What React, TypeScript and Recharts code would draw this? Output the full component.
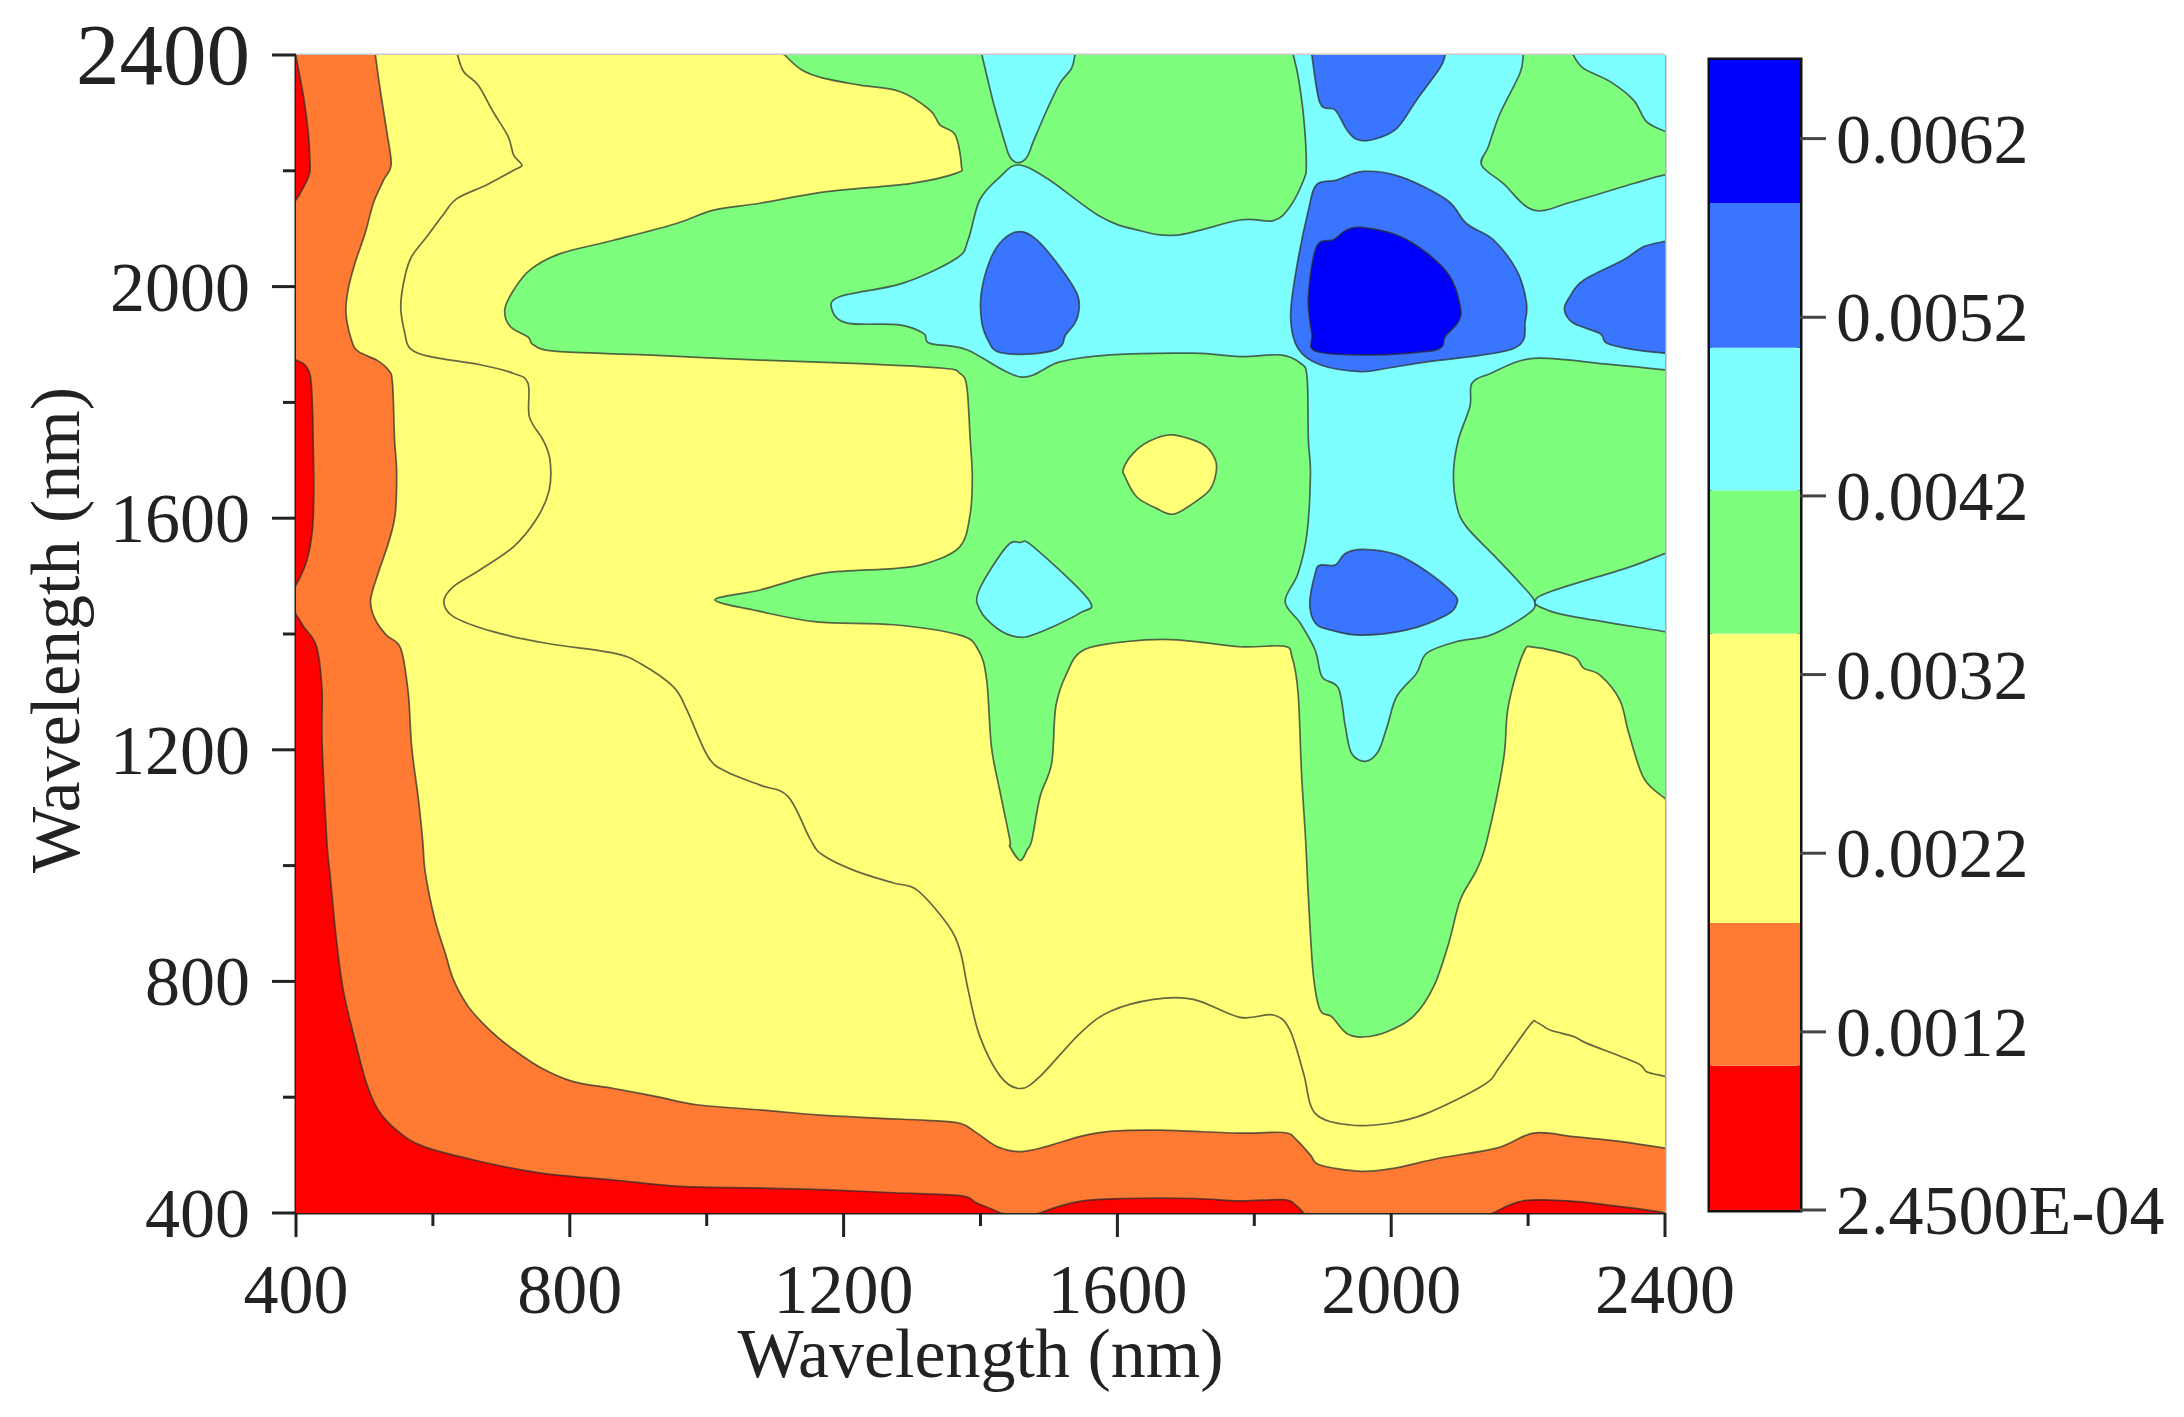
import { ScatterChart, Scatter, XAxis, YAxis, ReferenceLine, ReferenceArea, BarChart, Bar } from "recharts"

type Pt = [number, number]

const SERIF = '"Liberation Serif", "Times New Roman", serif'
const INK = "#222"

const RED = "#ff0000"
const ORANGE = "#ff7a33"
const YELLOW = "#ffff78"
const GREEN = "#7dff7d"
const CYAN = "#7dffff"
const BLUE = "#3a75ff"
const DEEP = "#0000ff"

const axisTicks = [400, 600, 800, 1000, 1200, 1400, 1600, 1800, 2000, 2200, 2400]
const axisMajor = [400, 800, 1200, 1600, 2000, 2400]

// contour outlines in nm; points just past 400/2400 hide the outline behind the plot clip
const orangeBase: Pt[] = [[388, 388], [2412, 388], [2412, 2412], [388, 2412]]

const redTopLeft: Pt[] = [[398, 2412], [401, 2391], [411, 2328], [418, 2265], [420, 2224], [420, 2196], [411, 2172], [400, 2150], [388, 2140], [388, 2412]]
const redMidLeft: Pt[] = [[388, 1878], [400, 1873], [413, 1865], [421, 1845], [424, 1793], [425, 1735], [426, 1649], [424, 1580], [416, 1528], [400, 1485], [388, 1470]]
const redBottomLeft: Pt[] = [[388, 1445], [400, 1433], [411, 1413], [430, 1378], [438, 1303], [438, 1217], [445, 1044], [450, 981], [459, 872], [469, 785], [486, 699], [503, 624], [520, 578], [547, 543], [586, 515], [669, 489], [757, 469], [864, 457], [961, 446], [1078, 443], [1175, 440], [1273, 435], [1370, 430], [1395, 417], [1429, 400], [1440, 388], [388, 388]]
const redBottomMid: Pt[] = [[1475, 388], [1487, 400], [1545, 420], [1614, 425], [1711, 425], [1779, 421], [1843, 423], [1860, 414], [1872, 400], [1880, 388]]
const redBottomRight: Pt[] = [[2135, 388], [2149, 400], [2193, 421], [2257, 421], [2315, 414], [2400, 400], [2412, 388]]

const yellowOuter: Pt[] = [[515, 2412], [516, 2400], [523, 2340], [533, 2265], [539, 2210], [528, 2184], [513, 2144], [501, 2092], [486, 2040], [476, 1994], [473, 1954], [481, 1908], [491, 1888], [518, 1873], [535, 1856], [541, 1833], [544, 1735], [547, 1683], [545, 1608], [535, 1557], [520, 1505], [509, 1459], [515, 1427], [532, 1398], [553, 1375], [564, 1298], [569, 1205], [579, 1113], [585, 1044], [589, 987], [603, 906], [618, 849], [630, 803], [652, 756], [683, 716], [718, 682], [759, 650], [805, 627], [864, 615], [927, 601], [985, 587], [1078, 578], [1166, 569], [1248, 564], [1321, 560], [1370, 555], [1395, 538], [1424, 515], [1458, 506], [1497, 515], [1545, 532], [1589, 541], [1662, 543], [1779, 538], [1843, 539], [1862, 526], [1882, 500], [1896, 483], [1955, 472], [2003, 477], [2071, 495], [2154, 512], [2208, 538], [2266, 532], [2339, 523], [2400, 512], [2412, 510], [2412, 2412]]
const yellowInner: Pt[] = [[634, 2412], [636, 2400], [645, 2371], [666, 2348], [688, 2302], [710, 2259], [718, 2227], [730, 2210], [718, 2201], [679, 2176], [635, 2152], [615, 2124], [591, 2086], [569, 2052], [559, 2017], [553, 1965], [559, 1919], [567, 1893], [596, 1879], [669, 1865], [718, 1850], [739, 1833], [741, 1775], [761, 1735], [771, 1701], [770, 1649], [752, 1600], [718, 1551], [669, 1511], [630, 1482], [616, 1456], [630, 1430], [688, 1404], [766, 1384], [864, 1367], [903, 1349], [951, 1309], [971, 1269], [1002, 1188], [1029, 1162], [1078, 1139], [1119, 1119], [1152, 1044], [1170, 1018], [1219, 990], [1273, 970], [1307, 958], [1351, 900], [1370, 854], [1382, 785], [1399, 705], [1429, 636], [1458, 615], [1487, 636], [1545, 710], [1589, 748], [1653, 769], [1711, 769], [1779, 738], [1828, 742], [1852, 716], [1872, 641], [1889, 572], [1940, 552], [1998, 555], [2052, 572], [2135, 621], [2159, 653], [2203, 725], [2213, 729], [2232, 716], [2266, 705], [2286, 693], [2359, 659], [2373, 644], [2400, 636], [2412, 632], [2412, 2412]]

const greenMain: Pt[] = [[1108, 2412], [1114, 2400], [1139, 2374], [1170, 2360], [1224, 2348], [1282, 2337], [1326, 2305], [1341, 2279], [1363, 2262], [1372, 2210], [1365, 2196], [1297, 2178], [1175, 2164], [1078, 2144], [1010, 2132], [956, 2109], [864, 2080], [786, 2057], [742, 2029], [718, 1994], [705, 1960], [713, 1931], [739, 1913], [747, 1899], [781, 1888], [912, 1882], [1078, 1873], [1224, 1867], [1346, 1859], [1370, 1850], [1380, 1827], [1385, 1735], [1388, 1672], [1385, 1608], [1370, 1551], [1321, 1522], [1273, 1513], [1170, 1505], [1078, 1476], [1012, 1459], [1078, 1439], [1161, 1421], [1273, 1416], [1370, 1398], [1397, 1372], [1409, 1321], [1416, 1205], [1429, 1125], [1443, 1044], [1443, 1033], [1458, 1009], [1468, 1027], [1475, 1044], [1487, 1119], [1504, 1177], [1510, 1275], [1526, 1332], [1550, 1372], [1614, 1387], [1687, 1390], [1779, 1378], [1843, 1379], [1855, 1361], [1864, 1298], [1869, 1159], [1875, 1044], [1879, 946], [1886, 814], [1896, 751], [1913, 739], [1935, 710], [1959, 704], [1994, 713], [2032, 739], [2062, 791], [2084, 866], [2101, 941], [2125, 993], [2140, 1044], [2164, 1182], [2171, 1275], [2193, 1367], [2210, 1377], [2266, 1361], [2281, 1341], [2305, 1329], [2334, 1286], [2347, 1229], [2369, 1151], [2400, 1116], [2412, 1105], [2412, 2412]]
const yellowSpot: Pt[] = [[1679, 1744], [1726, 1727], [1743, 1701], [1744, 1678], [1735, 1649], [1711, 1626], [1682, 1607], [1657, 1617], [1628, 1637], [1611, 1672], [1609, 1686], [1623, 1712], [1645, 1732]]

const cyanTop: Pt[] = [[1399, 2412], [1402, 2400], [1419, 2317], [1436, 2247], [1443, 2224], [1455, 2214], [1468, 2224], [1477, 2250], [1497, 2305], [1516, 2351], [1533, 2377], [1538, 2400], [1541, 2412]]
const cyanMain: Pt[] = [[1455, 2210], [1497, 2187], [1575, 2121], [1628, 2098], [1687, 2089], [1779, 2115], [1828, 2114], [1852, 2138], [1872, 2184], [1876, 2213], [1872, 2294], [1864, 2363], [1857, 2400], [1855, 2412], [2195, 2412], [2193, 2400], [2188, 2368], [2159, 2299], [2142, 2242], [2132, 2210], [2164, 2178], [2208, 2132], [2266, 2147], [2354, 2178], [2400, 2193], [2412, 2190], [2412, 1855], [2400, 1856], [2315, 1866], [2208, 1876], [2145, 1850], [2118, 1833], [2115, 1793], [2098, 1735], [2091, 1678], [2096, 1620], [2110, 1585], [2149, 1537], [2188, 1488], [2210, 1455], [2198, 1433], [2145, 1398], [2096, 1387], [2052, 1367], [2037, 1332], [2008, 1292], [1994, 1240], [1981, 1197], [1962, 1180], [1942, 1194], [1933, 1240], [1923, 1306], [1899, 1326], [1889, 1372], [1867, 1419], [1845, 1456], [1864, 1505], [1877, 1574], [1882, 1678], [1879, 1735], [1877, 1844], [1867, 1868], [1838, 1882], [1779, 1879], [1711, 1885], [1589, 1882], [1516, 1870], [1458, 1844], [1380, 1891], [1326, 1902], [1317, 1919], [1282, 1934], [1205, 1937], [1183, 1960], [1195, 1983], [1287, 2006], [1365, 2049], [1382, 2081], [1399, 2150], [1429, 2190]]
const cyanWedge: Pt[] = [[2210, 1455], [2232, 1473], [2349, 1516], [2400, 1539], [2412, 1542], [2412, 1401], [2400, 1404], [2266, 1430], [2227, 1442]]
const cyanCorner: Pt[] = [[2262, 2412], [2266, 2400], [2281, 2377], [2320, 2354], [2354, 2322], [2373, 2285], [2400, 2268], [2412, 2262], [2412, 2412]]
const cyanIsland: Pt[] = [[1458, 1558], [1477, 1551], [1558, 1459], [1545, 1436], [1482, 1401], [1453, 1395], [1424, 1410], [1399, 1442], [1398, 1476], [1438, 1551]]

const blueLeft: Pt[] = [[1458, 2095], [1482, 2081], [1516, 2034], [1541, 1988], [1544, 1960], [1538, 1937], [1524, 1916], [1519, 1899], [1502, 1888], [1458, 1883], [1424, 1888], [1412, 1905], [1402, 1937], [1401, 1988], [1414, 2046], [1433, 2081]]
const blueTop: Pt[] = [[1881, 2412], [1884, 2400], [1896, 2317], [1918, 2305], [1935, 2271], [1950, 2254], [1974, 2254], [2008, 2273], [2037, 2322], [2071, 2377], [2079, 2400], [2082, 2412]]
const blueCentre: Pt[] = [[1959, 2199], [2013, 2190], [2081, 2150], [2110, 2109], [2149, 2081], [2183, 2029], [2197, 1977], [2196, 1942], [2179, 1893], [2052, 1870], [1994, 1859], [1955, 1853], [1896, 1865], [1864, 1893], [1853, 1948], [1862, 2034], [1879, 2132], [1891, 2176], [1920, 2184]]
const blueRight: Pt[] = [[2412, 2080], [2400, 2078], [2369, 2069], [2339, 2046], [2281, 2011], [2261, 1983], [2253, 1960], [2266, 1937], [2305, 1919], [2315, 1902], [2354, 1891], [2400, 1885], [2412, 1883]]
const blueLower: Pt[] = [[1959, 1546], [2008, 1537], [2052, 1508], [2091, 1470], [2096, 1453], [2081, 1433], [2023, 1407], [1955, 1398], [1911, 1407], [1889, 1419], [1881, 1453], [1889, 1505], [1896, 1519], [1918, 1519], [1933, 1539]]
const deepCore: Pt[] = [[1959, 2102], [2008, 2089], [2052, 2058], [2086, 2017], [2101, 1965], [2098, 1939], [2079, 1914], [2074, 1896], [2052, 1888], [1974, 1882], [1891, 1888], [1884, 1919], [1879, 1983], [1891, 2069], [1916, 2081], [1935, 2098]]

const layers: [Pt[], string][] = [
  [orangeBase, ORANGE],
  [redTopLeft, RED],
  [redMidLeft, RED],
  [redBottomLeft, RED],
  [redBottomMid, RED],
  [redBottomRight, RED],
  [yellowOuter, YELLOW],
  [yellowInner, YELLOW],
  [greenMain, GREEN],
  [yellowSpot, YELLOW],
  [cyanTop, CYAN],
  [cyanMain, CYAN],
  [cyanWedge, CYAN],
  [cyanCorner, CYAN],
  [cyanIsland, CYAN],
  [blueLeft, BLUE],
  [blueTop, BLUE],
  [blueCentre, BLUE],
  [blueRight, BLUE],
  [blueLower, BLUE],
  [deepCore, DEEP],
]

// colour scale: band edges, bottom to top
const scaleEdges = [0.000203, 0.00101, 0.00181, 0.00343, 0.00423, 0.00503, 0.00584, 0.00664]
const scaleColors = [RED, ORANGE, YELLOW, GREEN, CYAN, BLUE, DEEP]
const scaleTicks = [0.000203, 0.0012, 0.0022, 0.0032, 0.0042, 0.0052, 0.0062]
const scaleLabels = ["2.4500E-04", "0.0012", "0.0022", "0.0032", "0.0042", "0.0052", "0.0062"]

const scaleRow: Record<string, number | string> = { name: "scale" }
scaleColors.forEach((_, i) => {
  scaleRow[`band${i}`] = i === 0 ? scaleEdges[1] : scaleEdges[i + 1] - scaleEdges[i]
})

// closed Catmull-Rom outline through the points the Scatter already scaled
function ContourOutline({ points, fill }: any) {
  const n = points.length
  const at = (i: number) => points[(i + n) % n]
  let d = `M${at(0).x},${at(0).y}`
  for (let i = 0; i < n; i++) {
    const [p0, p1, p2, p3] = [at(i - 1), at(i), at(i + 1), at(i + 2)]
    const c1x = p1.x + (p2.x - p0.x) / 6
    const c1y = p1.y + (p2.y - p0.y) / 6
    const c2x = p2.x - (p3.x - p1.x) / 6
    const c2y = p2.y - (p3.y - p1.y) / 6
    d += `C${c1x},${c1y} ${c2x},${c2y} ${p2.x},${p2.y}`
  }
  return <path d={d + "Z"} fill={fill} stroke="#2b2b2b" strokeOpacity={0.72} strokeWidth={1.7} />
}

function XTick({ x, y, payload }: any) {
  const major = axisMajor.includes(payload.value)
  return (
    <g>
      <line x1={x} y1={y} x2={x} y2={y + (major ? 24 : 13)} stroke={INK} strokeWidth={3} />
      {major && (
        <text x={x} y={y + 100} textAnchor="middle" fontFamily={SERIF} fontSize={70} fill={INK}>
          {payload.value}
        </text>
      )}
    </g>
  )
}

function YTick({ x, y, payload }: any) {
  const major = axisMajor.includes(payload.value)
  const top = payload.value === 2400
  return (
    <g>
      <line x1={x} y1={y} x2={x - (major ? 24 : 13)} y2={y} stroke={INK} strokeWidth={3} />
      {major && (
        <text x={x - 46} y={y + (top ? 29 : 24)} textAnchor="end" fontFamily={SERIF} fontSize={top ? 87 : 70} fill={INK}>
          {payload.value}
        </text>
      )}
    </g>
  )
}

function ScaleTick({ x, y, payload }: any) {
  return (
    <g>
      <line x1={x} y1={y} x2={x + 26} y2={y} stroke="#444" strokeWidth={3} />
      <text x={x + 36} y={y + 24} fontFamily={SERIF} fontSize={70} fill={INK}>
        {scaleLabels[scaleTicks.indexOf(payload.value)]}
      </text>
    </g>
  )
}

const titleStyle = { fontFamily: SERIF, fontSize: 70, fill: INK }

export default function App() {
  return (
    <div style={{ position: "absolute", left: 0, top: 0, width: 2184, height: 1417, background: "#fff" }}>
      <div style={{ position: "absolute", left: 0, top: 0 }}>
        <ScatterChart width={1750} height={1417} margin={{ top: 55, right: 85, bottom: 0, left: 0 }}>
          <XAxis
            type="number"
            dataKey="x"
            domain={[400, 2400]}
            ticks={axisTicks}
            interval={0}
            allowDataOverflow
            height={204}
            tickSize={0}
            tickMargin={0}
            tickLine={false}
            tick={XTick}
            axisLine={{ stroke: INK, strokeWidth: 3 }}
            label={{ value: "Wavelength (nm)", position: "insideBottom", offset: 40, style: titleStyle }}
          />
          <YAxis
            type="number"
            dataKey="y"
            domain={[400, 2400]}
            ticks={axisTicks}
            interval={0}
            allowDataOverflow
            width={296}
            tickSize={0}
            tickMargin={0}
            tickLine={false}
            tick={YTick}
            axisLine={{ stroke: INK, strokeWidth: 3 }}
            label={{ value: "Wavelength (nm)", angle: -90, position: "insideLeft", offset: 54, dy: -4, style: { ...titleStyle, textAnchor: "middle" } }}
          />
          {layers.map(([pts, color], i) => (
            <Scatter
              key={i}
              data={pts.map(([x, y]) => ({ x, y }))}
              fill={color}
              line={(props: any) => <ContourOutline points={props.points} fill={color} />}
              shape={() => null}
              isAnimationActive={false}
            />
          ))}
          <ReferenceLine x={2400} stroke="#aaa" strokeWidth={3} />
          <ReferenceLine y={2400} stroke="#c8c8c8" strokeWidth={3} />
        </ScatterChart>
      </div>
      <div style={{ position: "absolute", left: 1680, top: 0 }}>
        <BarChart
          width={504}
          height={1417}
          data={[scaleRow]}
          barCategoryGap={0}
          margin={{ top: 60, right: 0, bottom: 207, left: 30 }}
        >
          <XAxis dataKey="name" hide />
          <YAxis
            orientation="right"
            type="number"
            domain={[scaleEdges[0], scaleEdges[scaleEdges.length - 1]]}
            ticks={scaleTicks}
            interval={0}
            allowDataOverflow
            width={384}
            tickSize={0}
            tickMargin={0}
            tickLine={false}
            tick={ScaleTick}
            axisLine={false}
          />
          {scaleColors.map((color, i) => (
            <Bar key={color} dataKey={`band${i}`} stackId="scale" fill={color} isAnimationActive={false} />
          ))}
          <ReferenceArea
            y1={scaleEdges[0]}
            y2={scaleEdges[scaleEdges.length - 1]}
            fill="none"
            stroke="#111"
            strokeWidth={5}
          />
        </BarChart>
      </div>
    </div>
  )
}
